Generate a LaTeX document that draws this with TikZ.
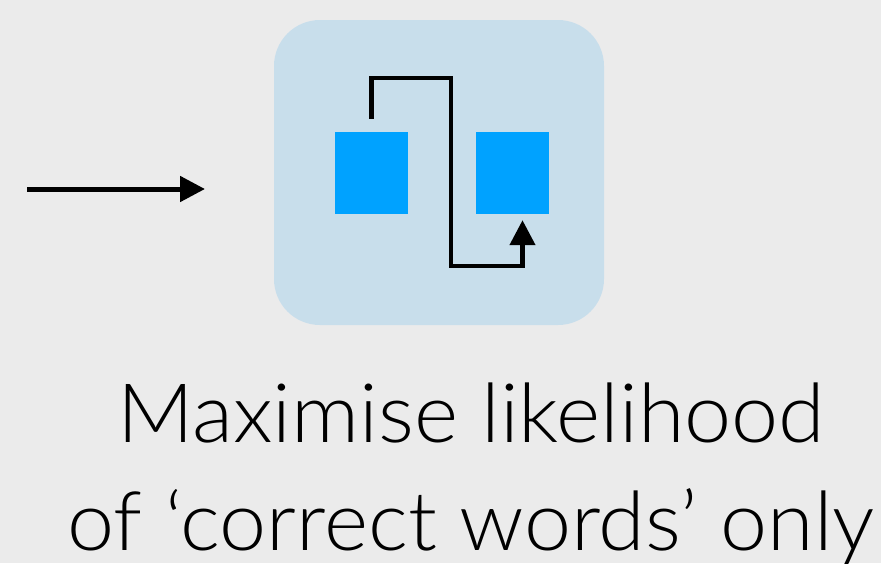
\documentclass[tikz,border=0pt]{standalone}
\usepackage{fontspec}
\setmainfont{Lato Light}[FakeStretch=1.03]
\usetikzlibrary{arrows.meta}
\definecolor{bgc}{HTML}{EBEBEB}
\definecolor{panel}{HTML}{C8DEEB}
\definecolor{cell}{HTML}{00A2FF}
\tikzset{
  panelbox/.style={rectangle, fill=panel, rounded corners=46pt, minimum width=330pt, minimum height=305pt, inner sep=0pt},
  cellbox/.style={rectangle, fill=cell, minimum width=73pt, minimum height=82pt, inner sep=0pt},
  conn/.style={line width=4.5pt, -{Triangle[length=25pt,width=25pt]}},
  flow/.style={line width=5pt, -{Triangle[length=25pt,width=25pt]}},
  caption/.style={anchor=base, inner sep=0pt, font=\fontsize{82}{98}\selectfont}
}
\begin{document}
\begin{tikzpicture}[x=1pt, y=-1pt]
  % canvas
  \fill[bgc] (0,0) rectangle (881,563);
  \useasboundingbox (0,0) rectangle (881,563);

  % incoming arrow
  \coordinate (inA) at (27,189);
  \coordinate (inB) at (205,189);
  \draw[flow] (inA) -- (inB);

  % panel with two cells
  \node[panelbox] (panel) at (439,172.5) {};
  \node[cellbox] (left) at (371.5,173) {};
  \node[cellbox] (right) at (512.5,173) {};

  % skip connection from the left cell to the right cell
  \draw[conn] ([yshift=13pt]left.north) -- ++(0,-41) -| (451,266) -| ([xshift=10pt,yshift=-6pt]right.south);

  % caption
  \node[caption] (l1) at (471,442) {Maximise likelihood};
  \node[caption] (l2) at (471,550) {of ‘correct words’ only};
\end{tikzpicture}
\end{document}
